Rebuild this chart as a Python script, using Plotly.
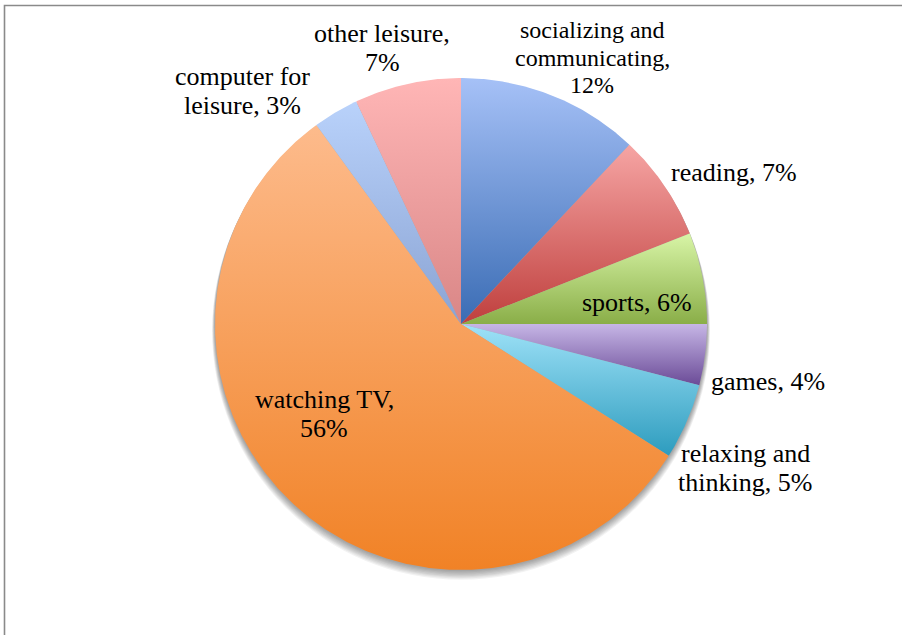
import numpy as np
import plotly.graph_objects as go

# Share of leisure time by activity (percent), clockwise from 12 o'clock
activities = ["socializing and communicating", "reading", "sports", "games",
              "relaxing and thinking", "watching TV", "computer for leisure",
              "other leisure"]
shares = [12, 7, 6, 4, 5, 56, 3, 7]
label_lines = [
    ["socializing and", "communicating,", "12%"],
    ["reading, 7%"],
    ["sports, 6%"],
    ["games, 4%"],
    ["relaxing and", "thinking, 5%"],
    ["watching TV,", "56%"],
    ["computer for", "leisure, 3%"],
    ["other leisure,", "7%"],
]

# Gradient fill per slice: (top colour, bottom colour)
slice_colors = [
    ("#a6c1f7", "#3a6cb4"),
    ("#f6a5a4", "#bf3f3d"),
    ("#d8f5a7", "#8aae48"),
    ("#c6b6e6", "#6b4b97"),
    ("#9fe2f8", "#2d9cbe"),
    ("#fdbb8c", "#f18226"),
    ("#b9d2fb", "#8aa3d3"),
    ("#ffb6b6", "#d98686"),
]

# Canvas / layout geometry (pixels)
W, H = 902, 635
CX, CY, R = 461, 324, 246
# label anchor: (centre x, first-line middle y, font size)
label_pos = [
    (592, 30, 24),
    (734, 172, 26),
    (637, 302, 26),
    (768, 381, 26),
    (745, 453, 26),
    (324, 399, 26),
    (242, 76, 26),
    (382, 33, 26),
]


def px_to_data(px, py):
    return (px - CX) / R, (CY - py) / R


fig = go.Figure()

total = float(sum(shares))
cum = 0.0
for name, val, (top, bottom) in zip(activities, shares, slice_colors):
    a0 = np.pi / 2 - 2 * np.pi * cum / total
    a1 = np.pi / 2 - 2 * np.pi * (cum + val) / total
    cum += val
    t = np.linspace(a0, a1, max(int(abs(a1 - a0) * 120), 8))
    xs = np.concatenate([[0.0], np.cos(t), [0.0]])
    ys = np.concatenate([[0.0], np.sin(t), [0.0]])
    fig.add_trace(go.Scatter(
        x=xs, y=ys, mode="lines", fill="toself", name=name,
        line=dict(width=0, color=bottom),
        fillgradient=dict(type="vertical",
                          colorscale=[[0, bottom], [1, top]],
                          start=float(ys.min()), stop=float(ys.max())),
        hoverinfo="name", showlegend=False,
    ))

# soft drop shadow, falling mostly below the pie
shapes = []
for k in range(1, 9):
    rr = 1.0 + 0.0015 * k
    oy = -0.0035 * k
    shapes.append(dict(type="circle", xref="x", yref="y", layer="below",
                       x0=-rr, x1=rr, y0=oy - rr, y1=oy + rr,
                       fillcolor="rgba(0,0,0,0.05)", line=dict(width=0)))

# chart frame
shapes.append(dict(type="rect", xref="paper", yref="paper",
                   x0=4.5 / W, x1=1.05, y0=-0.05, y1=1 - 5.5 / H,
                   line=dict(color="#8a8a8a", width=1.6),
                   fillcolor="rgba(0,0,0,0)"))

annotations = []
for lines, (lx, ly, fs) in zip(label_lines, label_pos):
    step = fs * 1.15
    for i, txt in enumerate(lines):
        x, y = px_to_data(lx, ly + i * step)
        annotations.append(dict(x=x, y=y, xref="x", yref="y", text=txt,
                                showarrow=False, xanchor="center",
                                yanchor="middle",
                                font=dict(family="Liberation Serif, Times New Roman, serif",
                                          size=fs, color="#000000")))

fig.update_layout(
    width=W, height=H,
    margin=dict(l=0, r=0, t=0, b=0),
    paper_bgcolor="#ffffff", plot_bgcolor="#ffffff",
    xaxis=dict(range=[-CX / R, (W - CX) / R], visible=False, fixedrange=True),
    yaxis=dict(range=[-(H - CY) / R, CY / R], visible=False, fixedrange=True),
    shapes=shapes, annotations=annotations,
    showlegend=False,
)

fig.write_html("out.html")
